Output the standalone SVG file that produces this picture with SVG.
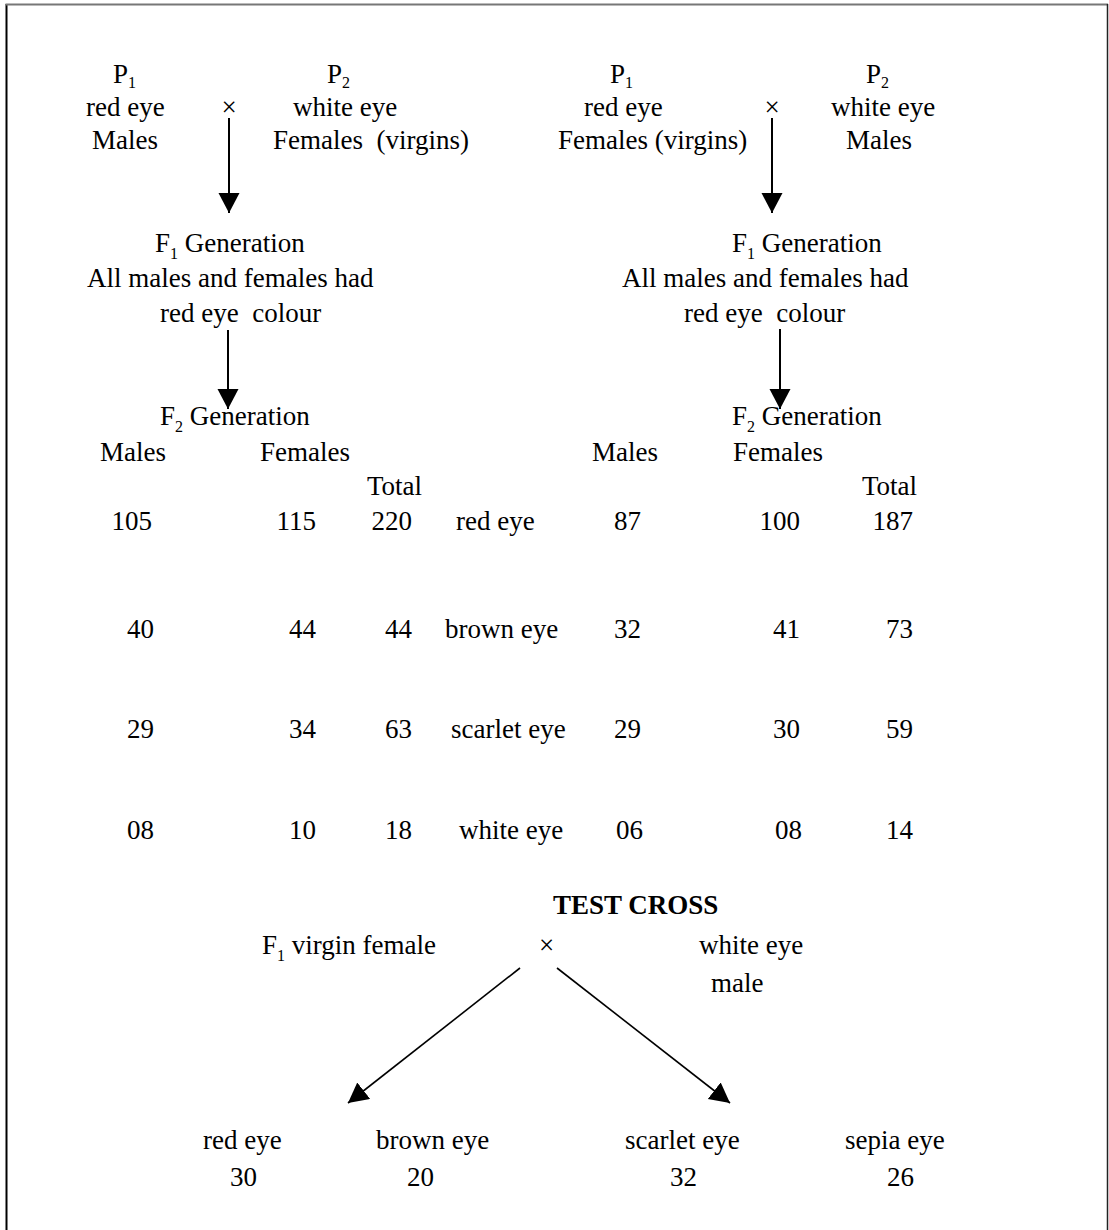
<svg xmlns="http://www.w3.org/2000/svg" width="1109" height="1230" viewBox="0 0 1109 1230">
<defs>
<style>
text{font-family:"Liberation Serif","Times New Roman",serif;font-size:27px;fill:#000;white-space:pre}
.sub{font-size:16px}
.b{font-weight:bold}
.conn{stroke:#000;stroke-width:2;fill:none}
.diag{stroke:#000;stroke-width:1.6;fill:none}
</style>
<marker id="ah" markerUnits="userSpaceOnUse" markerWidth="22" markerHeight="22" refX="20" refY="10.5" orient="auto" viewBox="0 0 22 22">
<path d="M0,0 L20,10.5 L0,21 z" fill="#000"/>
</marker>
</defs>
<rect width="1109" height="1230" fill="#fff"/>
<g id="frame">
<line x1="6.5" y1="4" x2="6.5" y2="1230" stroke="#000" stroke-width="2"/>
<line x1="5.5" y1="4.5" x2="1108" y2="4.5" stroke="#777" stroke-width="2"/>
<line x1="1107.5" y1="4" x2="1107.5" y2="1230" stroke="#222" stroke-width="1.5"/>
</g>
<g id="connectors">
<line class="conn" x1="229" y1="118" x2="229" y2="213" marker-end="url(#ah)"/>
<line class="conn" x1="772" y1="118" x2="772" y2="213" marker-end="url(#ah)"/>
<line class="conn" x1="228" y1="330" x2="228" y2="409" marker-end="url(#ah)"/>
<line class="conn" x1="780" y1="329" x2="780" y2="409" marker-end="url(#ah)"/>
<line class="diag" x1="520" y1="968" x2="348" y2="1103" marker-end="url(#ah)"/>
<line class="diag" x1="557" y1="968" x2="730" y2="1103" marker-end="url(#ah)"/>
</g>
<g id="p1-left">
<text x="113" y="83">P<tspan class="sub" dy="5">1</tspan></text>
<text x="86" y="116">red eye</text>
<text x="92" y="149">Males</text>
</g>
<g id="cross-left"><text x="221.5" y="116">×</text></g>
<g id="p2-left">
<text x="327" y="83">P<tspan class="sub" dy="5">2</tspan></text>
<text x="293" y="116">white eye</text>
<text x="273" y="149">Females  (virgins)</text>
</g>
<g id="p1-right">
<text x="610" y="83">P<tspan class="sub" dy="5">1</tspan></text>
<text x="584" y="116">red eye</text>
<text x="558" y="149">Females (virgins)</text>
</g>
<g id="cross-right"><text x="764.5" y="116">×</text></g>
<g id="p2-right">
<text x="866" y="83">P<tspan class="sub" dy="5">2</tspan></text>
<text x="831" y="116">white eye</text>
<text x="846" y="149">Males</text>
</g>
<g id="f1-left">
<text x="155" y="252">F<tspan class="sub" dy="7">1</tspan><tspan dy="-7"> Generation</tspan></text>
<text x="87" y="287">All males and females had</text>
<text x="160" y="322">red eye  colour</text>
</g>
<g id="f1-right">
<text x="732" y="252">F<tspan class="sub" dy="7">1</tspan><tspan dy="-7"> Generation</tspan></text>
<text x="622" y="287">All males and females had</text>
<text x="684" y="322">red eye  colour</text>
</g>
<g id="f2-left">
<text x="160" y="425">F<tspan class="sub" dy="7">2</tspan><tspan dy="-7"> Generation</tspan></text>
<text x="100" y="461">Males</text>
<text x="260" y="461">Females</text>
<text x="367" y="495">Total</text>
<g text-anchor="end">
<text x="152" y="530">105</text><text x="316" y="530">115</text><text x="412" y="530">220</text>
<text x="154" y="638">40</text><text x="316" y="638">44</text><text x="412" y="638">44</text>
<text x="154" y="738">29</text><text x="316" y="738">34</text><text x="412" y="738">63</text>
<text x="154" y="839">08</text><text x="316" y="839">10</text><text x="412" y="839">18</text>
</g>
</g>
<g id="phenotypes">
<text x="456" y="530">red eye</text>
<text x="445" y="638">brown eye</text>
<text x="451" y="738">scarlet eye</text>
<text x="459" y="839">white eye</text>
</g>
<g id="f2-right">
<text x="732" y="425">F<tspan class="sub" dy="7">2</tspan><tspan dy="-7"> Generation</tspan></text>
<text x="592" y="461">Males</text>
<text x="733" y="461">Females</text>
<text x="862" y="495">Total</text>
<g text-anchor="end">
<text x="641" y="530">87</text><text x="800" y="530">100</text><text x="913" y="530">187</text>
<text x="641" y="638">32</text><text x="800" y="638">41</text><text x="913" y="638">73</text>
<text x="641" y="738">29</text><text x="800" y="738">30</text><text x="913" y="738">59</text>
<text x="643" y="839">06</text><text x="802" y="839">08</text><text x="913" y="839">14</text>
</g>
</g>
<g id="test-cross-title"><text class="b" x="553" y="914">TEST CROSS</text></g>
<g id="f1-virgin-female"><text x="262" y="954">F<tspan class="sub" dy="7">1</tspan><tspan dy="-7"> virgin female</tspan></text></g>
<g id="cross-test"><text x="539" y="954">×</text></g>
<g id="white-eye-male">
<text x="699" y="954">white eye</text>
<text x="711" y="992">male</text>
</g>
<g id="offspring-red"><text x="203" y="1149">red eye</text><text x="230" y="1186">30</text></g>
<g id="offspring-brown"><text x="376" y="1149">brown eye</text><text x="407" y="1186">20</text></g>
<g id="offspring-scarlet"><text x="625" y="1149">scarlet eye</text><text x="670" y="1186">32</text></g>
<g id="offspring-sepia"><text x="845" y="1149">sepia eye</text><text x="887" y="1186">26</text></g>
</svg>
